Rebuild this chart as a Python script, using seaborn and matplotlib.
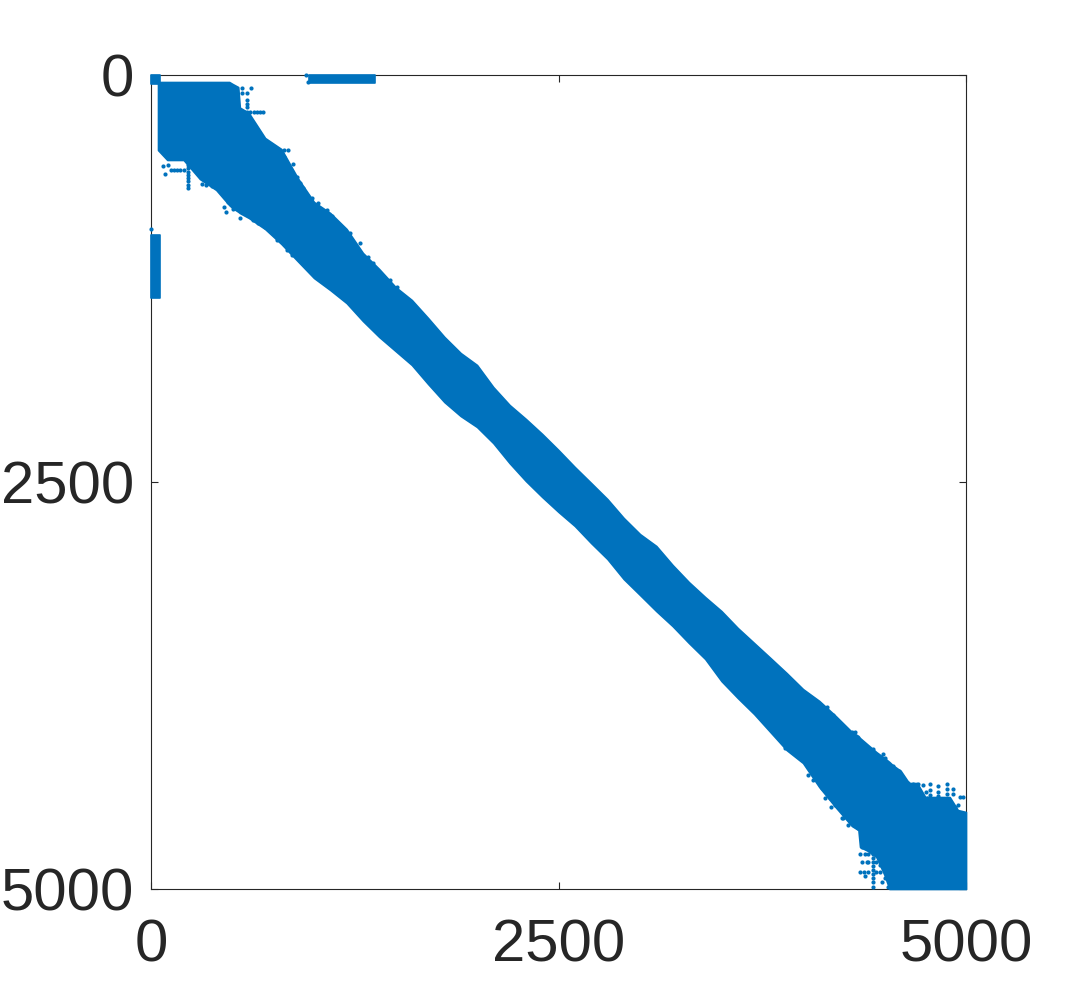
import matplotlib
matplotlib.use('Agg')
import matplotlib.pyplot as plt
import pandas as pd
import seaborn as sns

BLUE = '#0072BD'
DARK = '#262626'

# main band of nonzeros: first / last row per column
band_col = [43, 100, 200, 300, 400, 480, 500, 535, 545, 600,
            700, 800, 900, 1000, 1100, 1200, 1300, 1400, 1500, 1600,
            1700, 1800, 1900, 2000, 2100, 2200, 2300, 2400, 2500, 2600,
            2700, 2800, 2900, 3000, 3100, 3200, 3300, 3400, 3500, 3600,
            3700, 3800, 3900, 4000, 4100, 4200, 4300, 4340, 4350, 4400, 4450, 4500,
            4530, 4550, 4600, 4650, 4700, 4750, 4800, 4900, 4950, 5000]
band_top = [43, 43, 43, 43, 43, 43, 55, 74, 200, 233,
            387, 455, 633, 780, 848, 946, 1093, 1192, 1302, 1382,
            1493, 1609, 1708, 1781, 1917, 2027, 2113, 2205, 2304, 2408,
            2506, 2605, 2721, 2820, 2893, 3010, 3115, 3207, 3293, 3397,
            3489, 3581, 3674, 3772, 3845, 3937, 4036, 4060, 4073, 4116, 4159, 4196,
            4220, 4239, 4275, 4349, 4349, 4435, 4435, 4435, 4515, 4527]
band_bottom = [461, 522, 522, 639, 706, 799, 817, 840, 848, 878,
               946, 1038, 1143, 1247, 1321, 1401, 1511, 1609, 1695, 1781,
               1898, 2009, 2095, 2162, 2261, 2384, 2494, 2592, 2684, 2770,
               2875, 2973, 3096, 3194, 3293, 3385, 3489, 3587, 3723, 3827,
               3925, 4036, 4147, 4226, 4374, 4497, 4613, 4638, 4742, 4767, 4804, 4914,
               5000, 5000, 5000, 5000, 5000, 5000, 5000, 5000, 5000, 5000]

# small separate blocks
corner_col = [0, 55]
corner_top = [0, 0]
corner_bottom = [55, 55]
upper_col = [970, 1375]
upper_top = [0, 0]
upper_bottom = [50, 50]
left_col = [0, 55]
left_top = [985, 985]
left_bottom = [1370, 1370]

# stray nonzeros around the band
stray_col = [558, 613, 558, 589, 589, 589, 589,
             530, 550, 570, 590, 610, 630, 650, 670, 690,
             840, 816, 871, 74, 104, 86,
             120, 140, 160, 180, 200,
             227, 227, 227, 227, 227, 227, 227, 227,
             460, 503, 546, 0, 951, 963,
             4135, 4172, 4239, 4429, 4491, 4454,
             4779, 4779, 4779, 4828, 4828, 4828, 4883, 4883, 4883, 4920, 4920,
             4963, 4982, 4951,
             4350, 4362, 4393, 4350, 4380, 4485,
             4429, 4429, 4429, 4429, 4429, 4429, 4429, 4429, 4429, 4429,
             4375, 4400, 4450, 4470,
             4380, 4400, 4450, 4480,
             4400, 4450, 4480,
             # rough lower edge, top left
             311, 337, 372, 392, 450, 474, 546, 577, 628, 658, 699, 771, 832, 863,
             # rough upper edge, top left
             771, 816, 822, 853, 894, 914, 934, 986, 1026, 1078, 1108, 1139, 1180,
             1221, 1282, 1333, 1364, 1395, 1466, 1507,
             # rough upper edge, bottom right
             4145, 4186, 4248, 4299, 4319, 4350, 4380, 4411, 4462, 4503, 4554, 4591,
             4616, 4646, 4677, 4708, 4738, 4753,
             # rough lower edge, bottom right
             3890, 4033, 4064, 4115, 4166, 4196, 4248, 4278, 4340, 4360, 4360, 4380,
             4442, 4473, 4493, 4503, 4524,
             4861, 4902, 4933, 4820, 4759]
stray_row = [80, 80, 111, 111, 154, 178, 197,
             227, 227, 227, 227, 227, 227, 227, 227, 227,
             461, 504, 547, 559, 553, 608,
             584, 584, 584, 584, 584,
             553, 573, 593, 613, 633, 653, 673, 694,
             842, 823, 878, 946, 0, 43,
             4441, 4497, 4564, 4141, 4171, 4177,
             4355, 4392, 4420, 4368, 4405, 4430, 4355, 4385, 4415, 4386, 4415,
             4435, 4435, 4484,
             4785, 4835, 4835, 4896, 4920, 4957,
             4761, 4785, 4810, 4835, 4860, 4885, 4910, 4935, 4960, 4988,
             4896, 4896, 4896, 4896,
             4785, 4785, 4785, 4785,
             4835, 4835, 4835,
             670, 676, 682, 670, 809, 778, 819, 830, 891, 912, 932, 1014, 1075, 1106,
             461, 461, 574, 594, 625, 662, 696, 758, 789, 830, 864, 912, 963,
             973, 1034, 1116, 1157, 1219, 1260, 1301,
             3880, 3931, 4003, 4034, 4038, 4095, 4115, 4146, 4208, 4197, 4244, 4275,
             4320, 4351, 4355, 4355, 4361, 4402,
             4136, 4300, 4331, 4382, 4443, 4484, 4566, 4607, 4627, 4699, 4740, 4720,
             4761, 4853, 4843, 4935, 4986,
             4474, 4474, 4494, 4453, 4443]

tick_vals = [0, 2500, 5000]


def draw_block(ax, cols, tops, bottoms):
    # two rows per column, the 100% interval fills the span between them
    df = pd.DataFrame({'col': cols + cols, 'row': tops + bottoms})
    sns.lineplot(data=df, x='col', y='row', estimator='mean', errorbar=('pi', 100),
                 color=BLUE, linewidth=0, ax=ax,
                 err_kws={'alpha': 1, 'linewidth': 1.2, 'edgecolor': BLUE,
                          'facecolor': BLUE, 'clip_on': False, 'zorder': 3})


sns.set_theme(style='white')
plt.rcParams['font.family'] = ['Liberation Sans', 'DejaVu Sans']

fig = plt.figure(figsize=(10.8, 10), dpi=100)
ax = fig.add_axes([151 / 1080, 0.111, 815 / 1080, 0.814])

draw_block(ax, band_col, band_top, band_bottom)
draw_block(ax, corner_col, corner_top, corner_bottom)
draw_block(ax, upper_col, upper_top, upper_bottom)
draw_block(ax, left_col, left_top, left_bottom)

stray = pd.DataFrame({'col': stray_col, 'row': stray_row})
sns.scatterplot(data=stray, x='col', y='row', color=BLUE, s=9, linewidth=0,
                clip_on=False, zorder=3, ax=ax)

ax.set_xlim(0, 5000)
ax.set_ylim(5000, 0)
ax.set_xlabel('')
ax.set_ylabel('')
ax.set_xticks(tick_vals)
ax.set_yticks(tick_vals)
ax.tick_params(axis='both', direction='in', length=5, width=0.8, color=DARK,
               labelcolor=DARK, labelsize=43, top=True, right=True, left=True, bottom=True)
ax.tick_params(axis='x', pad=21)
ax.tick_params(axis='y', pad=12)
for s in ax.spines.values():
    s.set_color(DARK)
    s.set_linewidth(0.8)
    s.set_zorder(1)

fig.savefig('out.png', dpi=100)
